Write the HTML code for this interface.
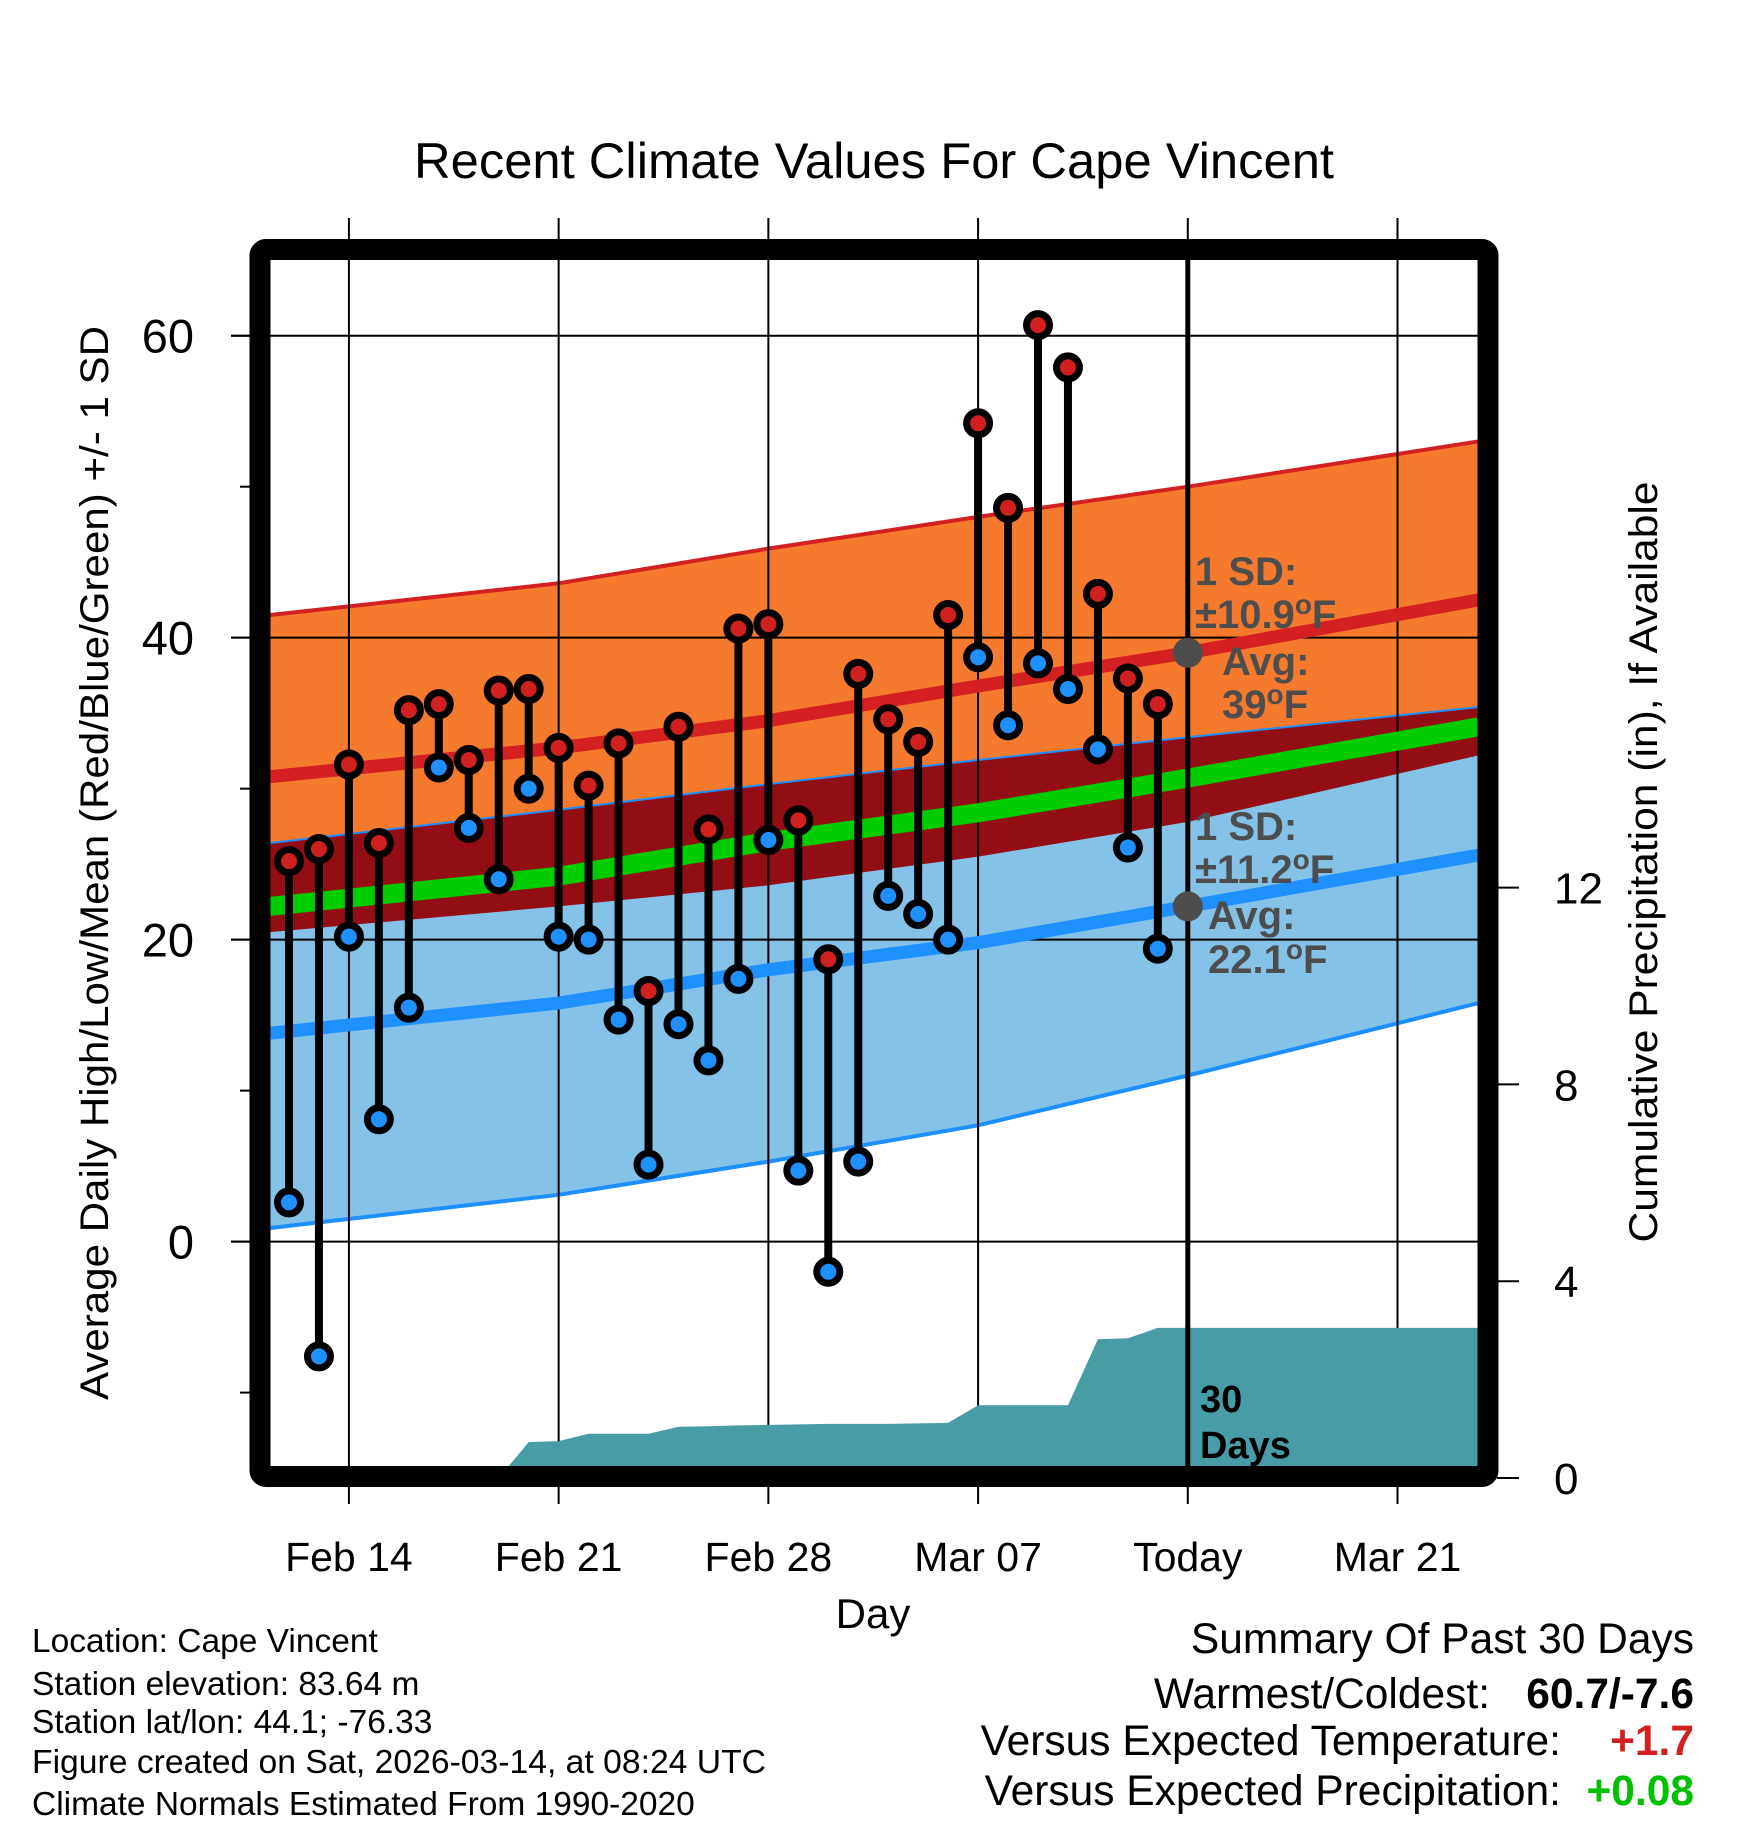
<!DOCTYPE html>
<html><head><meta charset="utf-8"><title>Recent Climate Values For Cape Vincent</title>
<style>html,body{margin:0;padding:0;background:#fff}svg{display:block}text{font-family:"Liberation Sans",Arial,sans-serif}</style>
</head><body>
<svg id="chart" xmlns="http://www.w3.org/2000/svg" width="1748" height="1828" viewBox="0 0 1748 1828">
<defs><clipPath id="plotclip"><rect x="270" y="259" width="1208" height="1209"/></clipPath></defs>
<g id="bands" clip-path="url(#plotclip)"></g>
<g id="grid"></g>
<g id="precip" clip-path="url(#plotclip)"></g>
<g id="means" clip-path="url(#plotclip)"></g>
<g id="marks"></g>
<g id="annot"></g>
<rect x="260" y="249.5" width="1228" height="1227" rx="6" fill="none" stroke="#000" stroke-width="21"/>
<g id="axes"></g>
<text x="874" y="178" text-anchor="middle" font-size="50" textLength="920" lengthAdjust="spacingAndGlyphs">Recent Climate Values For Cape Vincent</text>
<text transform="translate(108,863) rotate(-90)" text-anchor="middle" font-size="40" textLength="1074" lengthAdjust="spacingAndGlyphs">Average Daily High/Low/Mean (Red/Blue/Green) +/- 1 SD</text>
<text transform="translate(1657,862) rotate(-90)" text-anchor="middle" font-size="40" textLength="761" lengthAdjust="spacingAndGlyphs">Cumulative Precipitation (in), If Available</text>
<text x="873" y="1628" text-anchor="middle" font-size="42">Day</text>
<g font-size="33.5">
<text x="32" y="1652">Location: Cape Vincent</text>
<text x="32" y="1695">Station elevation: 83.64 m</text>
<text x="32" y="1733">Station lat/lon: 44.1; -76.33</text>
<text x="32" y="1773" textLength="734" lengthAdjust="spacingAndGlyphs">Figure created on Sat, 2026-03-14, at 08:24 UTC</text>
<text x="32" y="1815">Climate Normals Estimated From 1990-2020</text>
</g>
<g font-size="42.5" text-anchor="end">
<text x="1694" y="1653">Summary Of Past 30 Days</text>
<text x="1490" y="1708">Warmest/Coldest:</text>
<text x="1694" y="1708" font-weight="bold">60.7/-7.6</text>
<text x="1561" y="1755">Versus Expected Temperature:</text>
<text x="1694" y="1755" font-weight="bold" fill="#d02020">+1.7</text>
<text x="1561" y="1805">Versus Expected Precipitation:</text>
<text x="1694" y="1805" font-weight="bold" fill="#00c000">+0.08</text>
</g>
</svg>
<script>
// ---- data ----
const dayLabels = ["Feb 12","Feb 13","Feb 14","Feb 15","Feb 16","Feb 17","Feb 18","Feb 19","Feb 20","Feb 21","Feb 22","Feb 23","Feb 24","Feb 25","Feb 26","Feb 27","Feb 28","Mar 01","Mar 02","Mar 03","Mar 04","Mar 05","Mar 06","Mar 07","Mar 08","Mar 09","Mar 10","Mar 11","Mar 12","Mar 13"];
const highs = [25.2,26.0,31.6,26.4,35.2,35.6,31.9,36.5,36.6,32.7,30.2,33.0,16.6,34.1,27.3,40.6,40.9,27.9,18.7,37.6,34.6,33.1,41.5,54.2,48.6,60.7,57.9,42.9,37.3,35.6];
const lows  = [2.6,-7.6,20.2,8.1,15.5,31.4,27.4,24.0,30.0,20.2,20.0,14.7,5.1,14.4,12.0,17.4,26.6,4.7,-2.0,5.3,22.9,21.7,20.0,38.7,34.2,38.3,36.6,32.6,26.1,19.4];
const precipCum = [0,0,0,0,0,0,0,0,0.73,0.75,0.9,0.9,0.9,1.04,1.05,1.07,1.08,1.09,1.1,1.1,1.1,1.11,1.12,1.48,1.48,1.48,1.48,2.82,2.84,3.05];
const normDays   = [-0.63,9,16,23,30,39.7];
const highPlusSD = [41.5,43.6,45.9,48.0,50.0,53.0];
const highMean   = [30.8,32.7,34.5,36.8,39.0,42.5];
const lowPlusSD  = [26.4,28.6,30.3,31.9,33.4,35.4];
const meanTemp   = [22.2,24.2,26.5,28.4,30.7,34.1];
const highMinusSD= [20.5,22.2,23.6,25.5,27.8,32.2];
const lowMean    = [13.8,15.8,18.0,19.8,22.2,25.6];
const lowMinusSD = [0.9,3.1,5.3,7.7,11.0,15.8];
const xTickDays = [2,9,16,23,30,37];
const xTickLabels = ["Feb 14","Feb 21","Feb 28","Mar 07","Today","Mar 21"];
const yMajor = [60,40,20,0];
const yMinor = [50,30,10,-10];
const y2Ticks = [0,4,8,12];
const todayDay = 30;
// ---- scales ----
const X = d => 289 + 29.96*d;
const Y = t => 1241.6 - 15.098*t;
const YP = p => 1478 - 49.2*p;
const NS = "http://www.w3.org/2000/svg";
function mk(tag, attrs, parent){const e=document.createElementNS(NS,tag);for(const k in attrs)e.setAttribute(k,attrs[k]);parent.appendChild(e);return e;}
const G = id => document.getElementById(id);
function pts(days, vals, f){return days.map((d,i)=>X(d).toFixed(1)+","+f(vals[i]).toFixed(1));}
function band(top, bot, fill, name){
  const p = pts(normDays, top, Y).concat(pts(normDays, bot, Y).reverse());
  const e = mk('polygon',{points:p.join(' '),fill:fill},G('bands'));
  
  
}
function line(vals, color, w, parent, name){
  const e = mk('polyline',{points:pts(normDays, vals, Y).join(' '),fill:'none',stroke:color,'stroke-width':w},parent);
  
  
}
// bands
band(highPlusSD, highMinusSD, '#f57a2e', 'high-sd-band');
band(lowPlusSD, lowMinusSD, '#84c2e8', 'low-sd-band');
band(lowPlusSD, highMinusSD, '#930d14', 'overlap-band');
line(highPlusSD, '#d42020', 4, G('bands'), 'high-plus-sd-line');
line(lowPlusSD, '#1e8fff', 2, G('bands'), 'low-plus-sd-line');
line(lowMinusSD, '#1e8fff', 4, G('bands'), 'low-minus-sd-line');
// grid
yMajor.forEach(t=>{
  const e = mk('line',{x1:231,x2:1478,y1:Y(t),y2:Y(t),stroke:'#000','stroke-width':2},G('grid'));
  
  
});
xTickDays.forEach((d,i)=>{
  const e = mk('line',{x1:X(d),x2:X(d),y1:218,y2:1504,stroke:'#000','stroke-width':2},G('grid'));
  
  
});
// precip
{
  const p=[X(-0.63)+","+YP(0)];
  precipCum.forEach((v,i)=>p.push(X(i).toFixed(1)+","+YP(v).toFixed(1)));
  p.push(X(40)+","+YP(precipCum[precipCum.length-1]).toFixed(1));
  p.push(X(40)+","+YP(0));
  const e = mk('polygon',{points:p.join(' '),fill:'#489ca6'},G('precip'));
  
  
}
// mean lines
line(highMean, '#d42020', 13, G('means'), 'high-mean-line');
line(meanTemp, '#00cc00', 19, G('means'), 'mean-line');
line(lowMean, '#1e90ff', 13, G('means'), 'low-mean-line');
// today line
{
  const e = mk('line',{x1:X(todayDay),x2:X(todayDay),y1:255,y2:1470,stroke:'#000','stroke-width':5},G('means'));
  
  
}
// daily marks
highs.forEach((h,i)=>{
  const g = mk('g',{},G('marks'));
  
  
  const s = mk('line',{x1:X(i),x2:X(i),y1:Y(h),y2:Y(lows[i]),stroke:'#000','stroke-width':8},g);
  
  
  const c1 = mk('circle',{cx:X(i),cy:Y(h),r:11.5,fill:'#d02020',stroke:'#000','stroke-width':7},g);
  
  
  const c2 = mk('circle',{cx:X(i),cy:Y(lows[i]),r:11.5,fill:'#1e90ff',stroke:'#000','stroke-width':7},g);
  
  
});
// annotations
const A = G('annot');
function txt(x,y,s,attrs,parent,name){const e=mk('text',Object.assign({x:x,y:y},attrs),parent);e.innerHTML=s;return e;}
const ga={fill:'#4d4d4d','font-weight':'bold','font-size':40};
{
  const d1 = mk('circle',{cx:X(todayDay),cy:Y(highMean[4]),r:15,fill:'#4d4d4d'},A);
  
  
  const d2 = mk('circle',{cx:X(todayDay),cy:Y(lowMean[4]),r:15,fill:'#4d4d4d'},A);
  
  
}
txt(1195,585,'1 SD:',ga,A,'high-sd-label');
txt(1195,628,'±10.9<tspan font-size="28" dy="-14">o</tspan><tspan dy="14">F</tspan>',ga,A,'high-sd-value');
txt(1222,675,'Avg:',ga,A,'high-avg-label');
txt(1222,718,'39<tspan font-size="28" dy="-14">o</tspan><tspan dy="14">F</tspan>',ga,A,'high-avg-value');
txt(1195,840,'1 SD:',ga,A,'low-sd-label');
txt(1195,883,'±11.2<tspan font-size="28" dy="-14">o</tspan><tspan dy="14">F</tspan>',ga,A,'low-sd-value');
txt(1208,929,'Avg:',ga,A,'low-avg-label');
txt(1208,973,'22.1<tspan font-size="28" dy="-14">o</tspan><tspan dy="14">F</tspan>',ga,A,'low-avg-value');
txt(1200,1412,'30',{fill:'#000','font-weight':'bold','font-size':38},A,'days-count');
txt(1200,1458,'Days',{fill:'#000','font-weight':'bold','font-size':38},A,'days-label');
// axes
const AX = G('axes');
yMajor.forEach(t=>{
  const l = mk('line',{x1:231,x2:250,y1:Y(t),y2:Y(t),stroke:'#000','stroke-width':2},AX);
  
  
  txt(194,Y(t)+17,String(t),{'text-anchor':'end','font-size':47},AX,'y-tick-label');
});
yMinor.forEach(t=>{
  const l = mk('line',{x1:240,x2:250,y1:Y(t),y2:Y(t),stroke:'#000','stroke-width':2},AX);
  
  
});
y2Ticks.forEach(p=>{
  const l = mk('line',{x1:1497,x2:1519,y1:YP(p),y2:YP(p),stroke:'#000','stroke-width':2},AX);
  
  
  txt(1554,YP(p)+16,String(p),{'font-size':44},AX,'y2-tick-label');
});
xTickDays.forEach((d,i)=>{
  txt(X(d),1571,xTickLabels[i],{'text-anchor':'middle','font-size':41},AX,'x-tick-label');
});
</script>
</body></html>
